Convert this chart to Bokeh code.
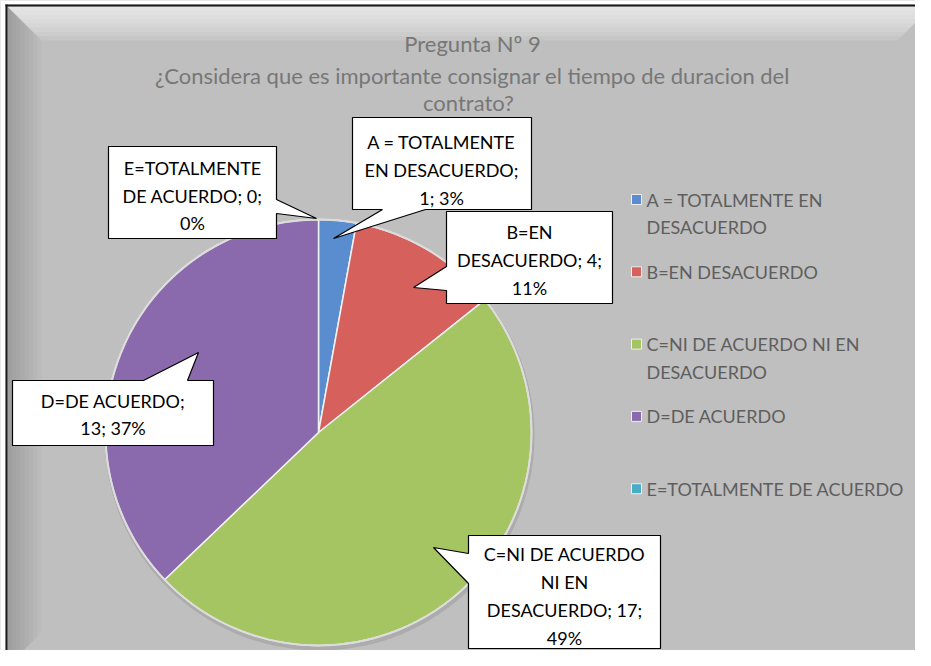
import math
from bokeh.plotting import figure
from bokeh.models import Range1d
from bokeh.core.properties import value
from bokeh.embed import file_html
from bokeh.resources import INLINE

# ---------------- data ----------------
categories = ["A = TOTALMENTE EN DESACUERDO", "B=EN DESACUERDO",
              "C=NI DE ACUERDO NI EN DESACUERDO", "D=DE ACUERDO",
              "E=TOTALMENTE DE ACUERDO"]
counts = [1, 4, 17, 13, 0]
colors = ["#5a8cd0", "#d6605c", "#a5c462", "#8a6aad", "#4bacc6"]

title_lines = ["Pregunta Nº 9",
               "¿Considera que es importante consignar el tiempo de duracion del",
               "contrato?"]
label_lines = [["A = TOTALMENTE", "EN DESACUERDO;", "1; 3%"],
               ["B=EN", "DESACUERDO; 4;", "11%"],
               ["C=NI DE ACUERDO", "NI EN", "DESACUERDO; 17;", "49%"],
               ["D=DE ACUERDO;", "13; 37%"],
               ["E=TOTALMENTE", "DE ACUERDO; 0;", "0%"]]
legend_lines = [["A = TOTALMENTE EN", "DESACUERDO"], ["B=EN DESACUERDO"],
                ["C=NI DE ACUERDO NI EN", "DESACUERDO"], ["D=DE ACUERDO"],
                ["E=TOTALMENTE DE ACUERDO"]]

# ---------------- layout ----------------
W, H = 931, 666
def Y(v):
    return H - v

FONT = value("Lato")
p = figure(width=915, height=650, x_range=Range1d(0, 915),
           y_range=Range1d(Y(650), Y(0)), output_backend="svg",
           toolbar_location=None, x_axis_location=None, y_axis_location=None,
           min_border=0)
p.grid.visible = False
p.outline_line_color = None
p.background_fill_color = "#bfbfbf"
p.border_fill_color = "#bfbfbf"

# bevelled background
d = 34
L, T, R, B = 7, 6, 931, 666
for k in range(1, 9):
    dd = d * k / 8
    p.patch([L, R, R - dd, L + dd], [Y(T), Y(T), Y(T + dd), Y(T + dd)],
            fill_color="white", fill_alpha=0.11, line_color=None)
    p.patch([L, L + dd, L + dd, L], [Y(T), Y(T + dd), Y(B - dd), Y(B)],
            fill_color="black", fill_alpha=0.018, line_color=None)
    p.patch([R, R - dd, R - dd, R], [Y(T), Y(T + dd), Y(B - dd), Y(B)],
            fill_color="white", fill_alpha=0.012, line_color=None)
    p.patch([L, L + dd, R - dd, R], [Y(B), Y(B - dd), Y(B - dd), Y(B)],
            fill_color="white", fill_alpha=0.012, line_color=None)
# white outer margin and dark frame (left / top)
p.quad(left=0, right=5, bottom=Y(666), top=Y(0), fill_color="white", line_color=None)
p.quad(left=0, right=931, bottom=Y(4), top=Y(0), fill_color="white", line_color=None)
p.line([6, 6], [Y(4), Y(666)], line_color="#1a1a1a", line_width=2)
p.line([5, 931], [Y(5), Y(5)], line_color="#1a1a1a", line_width=2)

# pie
cx, cy, r = 318, 432, 213
total = sum(counts)
starts, ends, cols = [], [], []
cum = 0
for c, col in zip(counts, colors):
    a0 = math.pi / 2 - 2 * math.pi * cum / total
    cum += c
    a1 = math.pi / 2 - 2 * math.pi * cum / total
    if c > 0:
        starts.append(a0); ends.append(a1); cols.append(col)
p.circle(x=cx + 1, y=Y(cy + 3), radius=r + 2, fill_color="#9a9a9a",
         fill_alpha=0.5, line_color=None)
p.wedge(x=cx, y=Y(cy), radius=r, start_angle=starts, end_angle=ends,
        direction="clock", fill_color=cols, line_color="#f2f2f2", line_width=1.5)
p.circle(x=cx, y=Y(cy), radius=r, fill_color=None, line_color="#dcdcdc",
         line_width=2)

# callouts: box (x0, y0, x1, y1), side, base (a, b), tip (tx, ty)
callouts = [
    ((352, 117, 531, 209), "bottom", (425, 382), (333, 238)),
    ((446, 211, 612, 303), "left", (290, 266), (413, 287)),
    ((468, 535, 660, 648), "left", (583, 553), (433, 547)),
    ((12, 380, 213, 445), "top", (143, 187), (198, 352)),
    ((108, 146, 276, 238), "right", (199, 213), (316, 218)),
]
xs, ys = [], []
for (x0, y0, x1, y1), side, (a, b), (tx, ty) in callouts:
    if side == "bottom":
        pts = [(x0, y0), (x1, y0), (x1, y1), (a, y1), (tx, ty), (b, y1), (x0, y1)]
    elif side == "left":
        pts = [(x0, y0), (x1, y0), (x1, y1), (x0, y1), (x0, a), (tx, ty), (x0, b)]
    elif side == "top":
        pts = [(x0, y0), (a, y0), (tx, ty), (b, y0), (x1, y0), (x1, y1), (x0, y1)]
    else:
        pts = [(x0, y0), (x1, y0), (x1, a), (tx, ty), (x1, b), (x1, y1), (x0, y1)]
    xs.append([q[0] for q in pts]); ys.append([Y(q[1]) for q in pts])
p.patches(xs, ys, fill_color="white", line_color="black", line_width=1.2)

label_centers = [(441, 169.5), (529, 259.5), (564, 595.5), (112.5, 414), (192, 195)]
lx, ly, lt = [], [], []
spacing = 27.8
for (mx, my), lines in zip(label_centers, label_lines):
    n = len(lines)
    for i, t in enumerate(lines):
        lx.append(mx); ly.append(Y(my + (i - (n - 1) / 2) * spacing)); lt.append(t)
p.text(x=lx, y=ly, text=lt, text_font=FONT, text_font_size="18px",
       text_align="center", text_baseline="middle", text_color="black")

# title
p.text(x=[472, 472, 468], y=[Y(43), Y(74.5), Y(102)], text=title_lines, text_font=FONT,
       text_font_size="22px", text_align="center", text_baseline="middle",
       text_color="#777777")

# legend
gx, gy, gt, mxs, mys = [], [], [], [], []
for i, lines in enumerate(legend_lines):
    y0 = 199 + i * 72.3
    mxs.append(636); mys.append(Y(y0))
    for j, t in enumerate(lines):
        gx.append(646); gy.append(Y(y0 + j * 27.5)); gt.append(t)
p.scatter(x=mxs, y=mys, marker="square", size=10, fill_color=colors,
          line_color="#eeeeee", line_width=1)
p.text(x=gx, y=gy, text=gt, text_font=FONT, text_font_size="18px",
       text_align="left", text_baseline="middle", text_color="#5e5e5e")

open("out.html", "w").write(file_html(p, INLINE))
